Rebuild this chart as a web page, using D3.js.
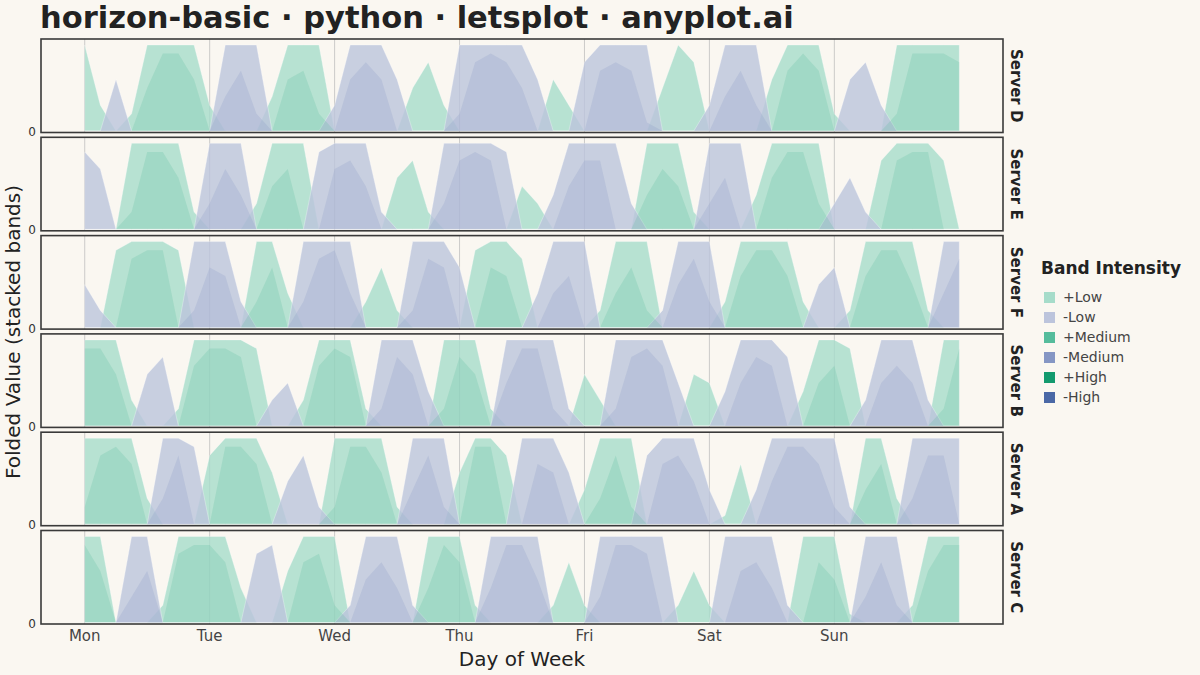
<!DOCTYPE html>
<html><head><meta charset="utf-8">
<script src="https://cdn.jsdelivr.net/npm/d3@7"></script>
<style>body{margin:0;background:#faf7f1;font-family:"DejaVu Sans",sans-serif}</style>
</head><body>
<script>
// Folded values sampled every 3 hours, Mon 00:00 .. Mon 00:00 next week
var servers = ["Server D","Server E","Server F","Server B","Server A","Server C"];
var serverD = [1.0,0.3,-0.6,0.2,1.5,1.9,1.9,1.6,0.3,-1.4,-1.7,-1.2,0.4,1.6,1.7,1.2,-0.3,-1.6,-1.8,-1.6,-0.6,0.5,0.8,0.3,-1.2,-1.8,-1.9,-1.8,-1.5,-0.6,0.6,0.3,-0.8,-1.7,-1.8,-1.7,-1.1,0.5,1.0,0.8,-0.3,-1.4,-1.7,-1.3,0.6,1.7,1.9,1.7,0.2,-0.6,-0.8,-0.3,1.2,1.9,1.9,1.9,1.8];
var serverE = [-0.9,-0.7,0.0,1.2,1.9,1.9,1.6,0.2,-1.3,-1.7,-1.4,0.3,1.5,1.7,1.0,-0.9,-1.7,-1.8,-1.5,-0.2,0.6,0.8,0.2,-1.3,-1.8,-1.9,-1.8,-0.9,0.5,0.3,-0.4,-1.5,-1.8,-1.8,-1.0,-0.3,1.4,1.7,1.5,0.2,-1.3,-1.6,-1.0,0.4,1.6,1.9,1.9,1.3,-0.3,-0.6,-0.2,0.8,1.8,1.9,1.9,0.8,0.0];
var serverF = [-0.5,-0.2,0.9,1.8,1.9,1.9,0.9,-1.2,-1.7,-1.6,-0.3,1.3,1.7,0.4,-1.3,-1.8,-1.9,-1.4,0.3,0.7,0.2,-1.2,-1.8,-1.7,-0.7,0.9,1.7,1.6,0.8,-0.4,-1.4,-1.6,-1.0,0.2,1.4,1.7,1.2,-0.2,-1.5,-1.8,-1.3,0.3,1.6,1.9,1.9,1.6,0.3,-0.5,-0.7,0.2,1.6,1.9,1.9,1.5,0.2,-1.4,-1.8];
var serverB = [1.9,1.9,1.6,0.3,-0.6,-0.8,0.2,1.7,1.9,1.9,1.8,0.9,-0.3,-0.5,0.3,1.7,1.9,1.8,0.2,-1.2,-1.8,-1.6,-0.4,1.2,1.8,1.6,0.2,-1.5,-1.9,-1.9,-1.2,-0.2,0.6,0.3,-1.2,-1.8,-1.9,-1.7,-0.5,0.6,0.5,-0.4,-1.5,-1.8,-1.7,-0.8,0.4,1.5,1.7,0.9,-0.3,-1.5,-1.7,-1.5,-0.3,1.2,1.9];
var serverA = [1.2,1.8,1.9,1.7,0.3,-1.3,-1.8,-0.9,0.8,1.9,1.9,1.7,0.6,-0.5,-0.8,-0.2,1.2,1.9,1.9,1.6,0.2,-1.4,-1.8,-1.2,0.6,1.9,1.9,0.8,-1.0,-1.7,-1.6,-0.6,0.4,1.3,1.8,1.2,-0.8,-1.7,-1.8,-1.5,-0.4,0.1,0.7,-0.4,-1.5,-1.9,-1.9,-1.7,-1.2,-0.2,1.4,1.7,0.3,-1.3,-1.8,-1.8,-1.0];
var serverC = [1.9,1.6,0.0,-1.3,-1.6,0.2,1.8,1.9,1.9,1.7,0.4,-0.8,-0.9,0.6,1.7,1.8,1.2,-0.2,-1.5,-1.7,-1.4,-0.2,1.4,1.9,1.7,0.2,-1.4,-1.9,-1.9,-1.5,0.2,0.7,0.2,-1.3,-1.9,-1.9,-1.8,-1.0,0.2,0.6,0.2,-1.0,-1.6,-1.7,-1.4,-0.2,1.0,1.7,1.5,0.1,-1.3,-1.7,-1.2,0.2,1.6,1.9,1.9];
var seriesList = [serverD, serverE, serverF, serverB, serverA, serverC];
var dayLabels = ["Mon","Tue","Wed","Thu","Fri","Sat","Sun"];
var bandNames = ["+Low","-Low","+Medium","-Medium","+High","-High"];
var bandColors = ["#a6dcca","#bcc4dc","#55bc9c","#8596c4","#139a6e","#4a68a6"];
var bandOpacity = [0.8, 0.8, 0.22, 0.22, 0.7, 0.7];

var W = 1200, H = 675;
var svg = d3.select("body").append("svg").attr("width", W).attr("height", H);
svg.append("rect").attr("width", W).attr("height", H).attr("fill", "#faf7f1");

var left = 41, right = 1003, top0 = 39, panelH = 93.5, gap = 4.8;
var x = d3.scaleLinear().domain([-0.35, 7.35]).range([left, right]);

svg.append("text").attr("x", 40).attr("y", 28).attr("font-size", 30.5).attr("font-weight", "bold")
   .attr("fill", "#222").text("horizon-basic · python · letsplot · anyplot.ai");

seriesList.forEach(function(vals, p) {
    var y0 = top0 + p * (panelH + gap);
    var y = d3.scaleLinear().domain([0, 1]).range([y0 + panelH - 1.5, y0 + 6]);
    var g = svg.append("g");
    g.append("rect").attr("x", left).attr("y", y0).attr("width", right - left).attr("height", panelH).attr("fill", "#faf7f1");
    // day gridlines
    g.selectAll("line.grid").data(d3.range(7)).enter().append("line")
        .attr("x1", function(d){ return x(d); }).attr("x2", function(d){ return x(d); })
        .attr("y1", y0).attr("y2", y0 + panelH).attr("stroke", "#b8b8b8").attr("stroke-width", 0.7);
    var pts = vals.map(function(v, i){ return {t: i / 8, v: v}; });
    // bands: band 0 low, 1 medium, 2 high
    [0, 1, 2].forEach(function(b) {
        [1, -1].forEach(function(sgn, si) {
            var area = d3.area()
                .x(function(d){ return x(d.t); })
                .y0(y(0))
                .y1(function(d){
                    var a = sgn * d.v;
                    return y(Math.max(0, Math.min(1, a - b)));
                })
                .curve(d3.curveLinear);
            g.append("path").datum(pts).attr("d", area)
                .attr("fill", bandColors[b * 2 + si]).attr("fill-opacity", bandOpacity[b * 2 + si])
                .attr("stroke", "#ffffff").attr("stroke-opacity", b === 0 ? 0.5 : 0).attr("stroke-width", 0.6);
        });
    });
    g.append("rect").attr("x", left).attr("y", y0).attr("width", right - left).attr("height", panelH)
        .attr("fill", "none").attr("stroke", "#3a3a3a").attr("stroke-width", 1.6);
    g.append("text").attr("x", 36).attr("y", y(0) + 5).attr("text-anchor", "end")
        .attr("font-size", 12).attr("fill", "#333").text("0");
    g.append("text").attr("transform", "translate(" + 1011 + "," + (y0 + panelH / 2) + ") rotate(90)")
        .attr("text-anchor", "middle").attr("font-size", 15).attr("font-weight", "bold").attr("fill", "#222")
        .text(servers[p]);
});

// x axis labels
svg.selectAll("text.tick").data(dayLabels).enter().append("text")
    .attr("x", function(d, i){ return x(i); }).attr("y", 641).attr("text-anchor", "middle")
    .attr("font-size", 15).attr("fill", "#444").text(function(d){ return d; });
svg.append("text").attr("x", 522).attr("y", 666).attr("text-anchor", "middle")
    .attr("font-size", 20).attr("fill", "#222").text("Day of Week");
svg.append("text").attr("transform", "translate(20,332) rotate(-90)").attr("text-anchor", "middle")
    .attr("font-size", 20).attr("fill", "#222").text("Folded Value (stacked bands)");

// legend
var lg = svg.append("g").attr("transform", "translate(1041,0)");
lg.append("text").attr("x", 0).attr("y", 274).attr("font-size", 17).attr("font-weight", "bold")
  .attr("fill", "#222").text("Band Intensity");
bandNames.forEach(function(n, i) {
    lg.append("rect").attr("x", 3).attr("y", 292 + i * 20).attr("width", 11).attr("height", 11)
      .attr("fill", bandColors[i]);
    lg.append("text").attr("x", 22).attr("y", 302 + i * 20).attr("font-size", 14).attr("fill", "#444").text(n);
});
</script>
</body></html>
